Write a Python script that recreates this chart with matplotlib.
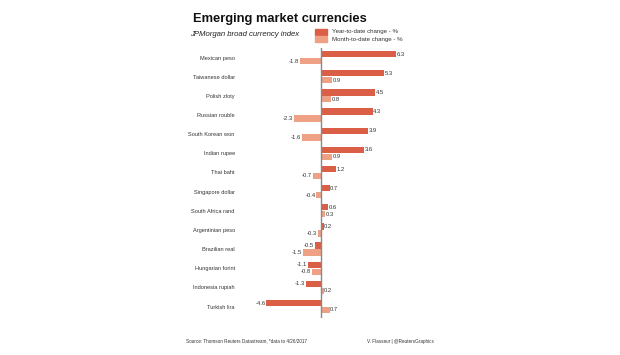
import numpy as np
import matplotlib
matplotlib.use("Agg")
from matplotlib import pyplot as plt
from matplotlib.patches import Rectangle

plt.rcParams['font.family'] = ['Liberation Sans', 'DejaVu Sans']

# data
currencies = ['Mexican peso', 'Taiwanese dollar', 'Polish zloty', 'Russian rouble',
              'South Korean won', 'Indian rupee', 'Thai baht', 'Singapore dollar',
              'South Africa rand', 'Argentinian peso', 'Brazilian real',
              'Hungarian forint', 'Indonesia rupiah', 'Turkish lira']
ytd = [6.3, 5.3, 4.5, 4.3, 3.9, 3.6, 1.2, 0.7, 0.6, 0.2, -0.5, -1.1, -1.3, -4.6]
mtd = [-1.8, 0.9, 0.8, -2.3, -1.6, 0.9, -0.7, -0.4, 0.3, -0.3, -1.5, -0.8, 0.2, 0.7]

dark = '#db5f47'
light = '#eea184'
txt = '#333333'

W, H = 620, 355
fig = plt.figure(figsize=(6.2, 3.55), dpi=100)

# axes placed in pixels
left, right, top, bottom = 264, 400, 48, 318
ax = fig.add_axes([left / W, 1 - bottom / H, (right - left) / W, (bottom - top) / H])

y = np.arange(len(currencies))
off = 0.18
hgt = 0.33
ax.barh(y - off, ytd, height=hgt, color=dark)
ax.barh(y + off, mtd, height=hgt, color=light)

def label(vals, pos):
    for v, p in zip(vals, pos):
        if v >= 0:
            ax.text(v + 0.05, p, f'{v:.1f}', ha='left', va='center', fontsize=4.2, color=txt)
        else:
            ax.text(v - 0.08, p, f'{v:.1f}', ha='right', va='center', fontsize=4.2, color=txt)

label(ytd, y - off)
label(mtd, y + off)

ax.set_xlim(-4.8, 6.6)
ax.set_ylim(13.6, -0.5)
ax.axvline(0, color='#888888', lw=1)
for s in ax.spines.values():
    s.set_visible(False)
ax.set_xticks([])
ax.set_yticks(y)
ax.set_yticklabels(currencies, fontsize=4.1, color=txt)
ax.tick_params(axis='y', length=0, pad=21)

# title and subtitle
fig.text(193 / W, 1 - 19 / H, 'Emerging market currencies', fontsize=9.3,
         fontweight='bold', ha='left', va='center', color='#111111')
fig.text(190 / W, 1 - 35 / H, 'JPMorgan broad currency index', fontsize=5.6,
         style='italic', ha='left', va='center', color='#222222')

# legend
fig.patches.append(Rectangle((315 / W, 1 - 35 / H), 12 / W, 6 / H,
                             transform=fig.transFigure, color=dark))
fig.patches.append(Rectangle((315 / W, 1 - 42 / H), 12 / W, 6 / H,
                             transform=fig.transFigure, color=light))
fig.text(332 / W, 1 - 31.5 / H, 'Year-to-date change - %', fontsize=4.4,
         ha='left', va='center', color=txt)
fig.text(332 / W, 1 - 39 / H, 'Month-to-date change - %', fontsize=4.4,
         ha='left', va='center', color=txt)

# footer
fig.text(186 / W, 1 - 341 / H, 'Source: Thomson Reuters Datastream, *data to 4/26/2017',
         fontsize=3.3, ha='left', va='center', color=txt)
fig.text(367 / W, 1 - 341 / H, 'V. Flasseur | @ReutersGraphics',
         fontsize=3.3, ha='left', va='center', color=txt)

fig.savefig('out.png', dpi=100, facecolor='white')
